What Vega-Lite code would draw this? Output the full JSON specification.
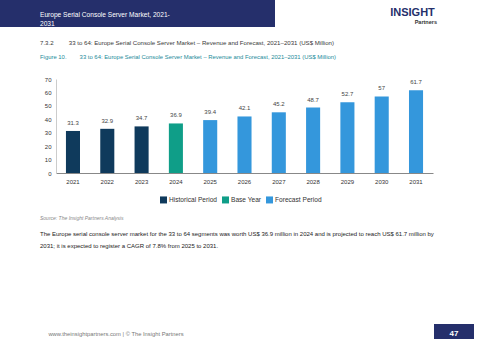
{
  "$schema": "https://vega.github.io/schema/vega-lite/v6.json",
  "padding": 0,
  "background": "white",
  "spacing": 12,
  "resolve": {"legend": {"color": "independent"}},
  "config": {
    "view": {"stroke": null},
    "font": "Liberation Sans"
  },
  "vconcat": [
    {
      "spacing": 110,
      "hconcat": [
        {
          "width": 275,
          "height": 27,
          "data": {"values": [{"header": "Europe Serial Console Server Market, 2021-\n2031"}]},
          "layer": [
            {"mark": {"type": "rect", "color": "#252f6b"}, "encoding": {}},
            {
              "mark": {
                "type": "text",
                "align": "left",
                "baseline": "middle",
                "lineBreak": "\n",
                "lineHeight": 9,
                "dx": -97.5,
                "dy": 1,
                "fontSize": 6.6,
                "color": "white"
              },
              "encoding": {"text": {"field": "header"}}
            }
          ]
        },
        {
          "width": 55,
          "height": 26,
          "data": {"values": [{"logo": "INSIGHT"}]},
          "mark": {"type": "text", "fontSize": 11, "fontWeight": "bold", "color": "#252f6b"},
          "encoding": {"text": {"field": "logo"}},
          "title": {
            "text": "Partners",
            "orient": "bottom",
            "anchor": "end",
            "offset": -6,
            "dx": -3,
            "fontSize": 5.5,
            "fontWeight": "bold",
            "color": "#333"
          }
        }
      ]
    },
    {
      "width": 433,
      "height": 94,
      "title": {
        "text": "7.3.2\u00a0\u00a0\u00a0\u00a0\u00a0\u00a0\u00a0\u00a0\u00a033 to 64: Europe Serial Console Server Market – Revenue and Forecast, 2021–2031 (US$ Million)",
        "subtitle": "Figure 10.\u00a0\u00a0\u00a0\u00a0\u00a0\u00a0\u00a0\u00a033 to 64: Europe Serial Console Server Market – Revenue and Forecast, 2021–2031 (US$ Million)",
        "anchor": "start",
        "frame": "group",
        "dx": 40,
        "fontSize": 6.1,
        "fontWeight": "normal",
        "color": "#3a3a3a",
        "subtitleColor": "#1b8a99",
        "subtitleFontSize": 5.9,
        "subtitlePadding": 8,
        "offset": 16
      },
      "data": {
        "values": [
          {"year": "2021", "value": 31.3, "period": "Historical Period"},
          {"year": "2022", "value": 32.9, "period": "Historical Period"},
          {"year": "2023", "value": 34.7, "period": "Historical Period"},
          {"year": "2024", "value": 36.9, "period": "Base Year"},
          {"year": "2025", "value": 39.4, "period": "Forecast Period"},
          {"year": "2026", "value": 42.1, "period": "Forecast Period"},
          {"year": "2027", "value": 45.2, "period": "Forecast Period"},
          {"year": "2028", "value": 48.7, "period": "Forecast Period"},
          {"year": "2029", "value": 52.7, "period": "Forecast Period"},
          {"year": "2030", "value": 57, "period": "Forecast Period"},
          {"year": "2031", "value": 61.7, "period": "Forecast Period"}
        ]
      },
      "encoding": {
        "x": {
          "field": "year",
          "type": "ordinal",
          "scale": {"range": [56, 433], "paddingInner": 0.59, "paddingOuter": 0.29},
          "axis": {
            "title": null,
            "labelAngle": 0,
            "labelFontSize": 6,
            "labelColor": "#333",
            "ticks": false,
            "labelPadding": 5,
            "domainColor": "#888"
          }
        },
        "y": {
          "field": "value",
          "type": "quantitative",
          "scale": {"domain": [0, 70]},
          "axis": {
            "title": null,
            "values": [0, 10, 20, 30, 40, 50, 60, 70],
            "grid": false,
            "ticks": false,
            "offset": -56,
            "labelFontSize": 6,
            "labelColor": "#333",
            "labelPadding": 5,
            "domainColor": "#ccc"
          }
        }
      },
      "layer": [
        {
          "mark": {"type": "bar"},
          "encoding": {
            "color": {
              "field": "period",
              "type": "nominal",
              "scale": {
                "domain": ["Historical Period", "Base Year", "Forecast Period"],
                "range": ["#0f3a5c", "#0f9e88", "#3497dc"]
              },
              "legend": {
                "title": null,
                "orient": "none",
                "legendX": 160,
                "legendY": 117,
                "direction": "horizontal",
                "symbolType": "square",
                "symbolSize": 49,
                "symbolStrokeWidth": 0,
                "labelFontSize": 6.6,
                "labelColor": "#333",
                "labelOffset": 2,
                "columnPadding": 4
              }
            }
          }
        },
        {
          "mark": {"type": "text", "dy": -5, "fontSize": 6, "color": "#444", "baseline": "bottom"},
          "encoding": {"text": {"field": "value", "type": "quantitative"}}
        }
      ]
    },
    {
      "spacing": 0,
      "hconcat": [
        {
          "width": 232,
          "height": 20,
          "title": {
            "text": "Source: The Insight Partners Analysis",
            "subtitle": [
              "The Europe serial console server market for the 33 to 64 segments was worth US$ 36.9 million in 2024 and is projected to reach US$ 61.7 million by",
              "2031; it is expected to register a CAGR of 7.8% from 2025 to 2031."
            ],
            "anchor": "start",
            "frame": "group",
            "dx": 40,
            "fontSize": 5,
            "fontStyle": "italic",
            "fontWeight": "normal",
            "color": "#888",
            "subtitleFontSize": 6,
            "subtitleColor": "#222",
            "subtitleLineHeight": 12,
            "subtitlePadding": 10,
            "offset": 75
          },
          "data": {"values": [{"footer": "www.theinsightpartners.com  |  © The Insight Partners"}]},
          "mark": {"type": "text", "fontSize": 5.8, "color": "#777"},
          "encoding": {"text": {"field": "footer"}}
        },
        {
          "width": 40,
          "height": 20,
          "data": {"values": [{"page": "47"}]},
          "layer": [
            {"mark": {"type": "rect", "color": "#252f6b"}, "encoding": {}},
            {
              "mark": {"type": "text", "fontSize": 8, "fontWeight": "bold", "color": "white"},
              "encoding": {"text": {"field": "page"}}
            }
          ]
        }
      ]
    }
  ]
}
